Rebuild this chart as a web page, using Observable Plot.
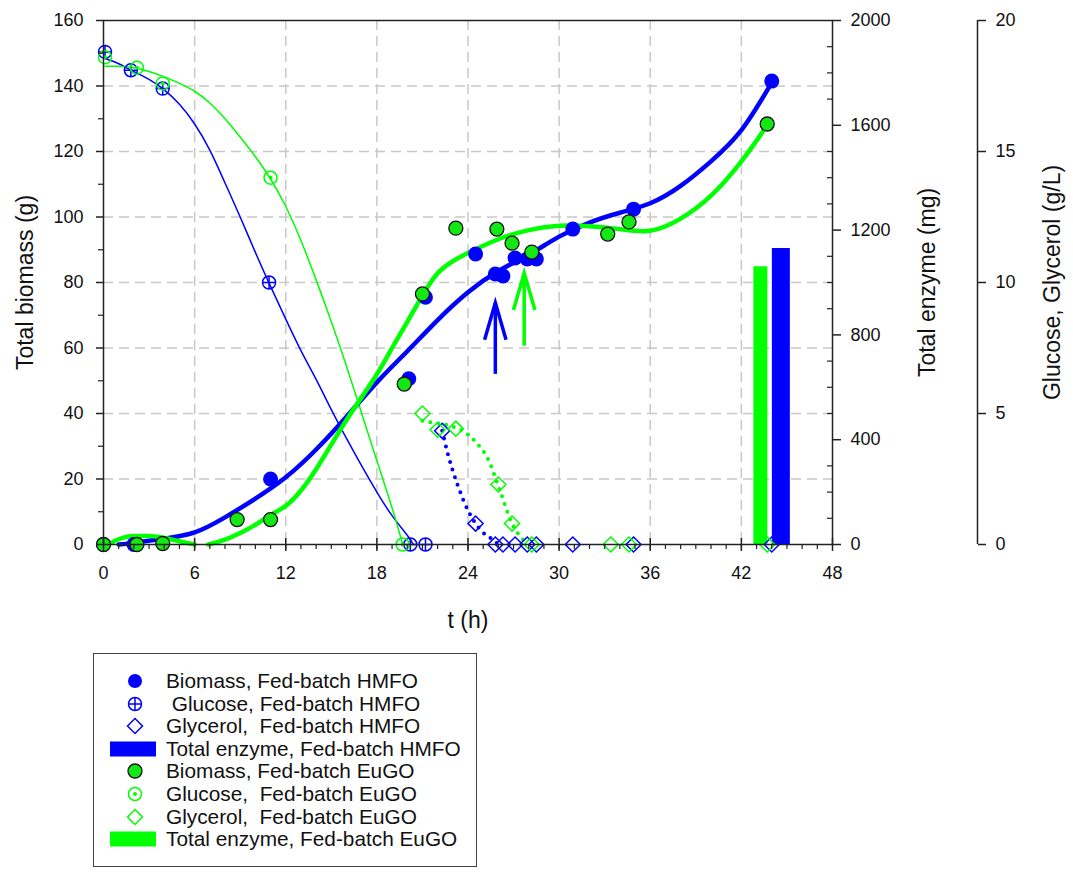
<!DOCTYPE html>
<html><head><meta charset="utf-8">
<script src="https://cdn.jsdelivr.net/npm/d3@7"></script>
<script src="https://cdn.jsdelivr.net/npm/@observablehq/plot@0.6"></script>
<style>
body{margin:0;background:#fff;font-family:"Liberation Sans",Arial,sans-serif;color:#111;}
#chart{position:absolute;left:0;top:0;}
#legend{position:absolute;left:93px;top:653px;width:384px;height:214px;border:1.5px solid #444;box-sizing:border-box;background:#fff;}
.row{position:absolute;left:0;width:380px;height:22px;}
.row svg{position:absolute;left:14px;top:0;}
.row span{position:absolute;left:72px;top:0;line-height:22px;font-size:20.8px;white-space:pre;}
</style></head><body>
<div id="chart"></div>
<div id="legend"></div>
<script>
// ---- axis ticks ----
const xTicks = [0, 6, 12, 18, 24, 30, 36, 42, 48];
const gridX = [6, 12, 18, 24, 30, 36, 42];
const gridY = [20, 40, 60, 80, 100, 120, 140];
const biomassTicks = [0, 20, 40, 60, 80, 100, 120, 140, 160];
const biomassMinor = [10, 30, 50, 70, 90, 110, 130, 150];
const enzymeTicks = [0, 400, 800, 1200, 1600, 2000];
const enzymeMinor = [100, 200, 300, 500, 600, 700, 900, 1000, 1100, 1300, 1400, 1500, 1700, 1800, 1900];
const concTicks = [0, 5, 10, 15, 20];

// ---- measured data: biomass (g) ----
const bioT_HMFO = [0, 2.0, 11.0, 20.1, 21.2, 24.5, 25.8, 26.3, 27.1, 27.9, 28.5, 30.9, 34.9, 44.0];
const bio_HMFO  = [0, 0, 20.0, 50.6, 75.5, 88.7, 82.6, 82.0, 87.5, 87.2, 87.2, 96.3, 102.4, 141.5];
const bioT_EuGO = [0, 2.2, 3.9, 8.8, 11.0, 19.8, 21.0, 23.2, 25.9, 26.9, 28.2, 33.2, 34.6, 43.7];
const bio_EuGO  = [0, 0, 0.3, 7.6, 7.6, 49.0, 76.5, 96.6, 96.3, 92.0, 89.3, 94.8, 98.5, 128.4];

// ---- glucose (g/L) ----
const gluT_HMFO = [0.1, 1.8, 3.9, 10.9, 20.2, 21.2];
const glu_HMFO  = [18.8, 18.1, 17.4, 10.0, 0, 0];
const gluT_EuGO = [0.1, 2.2, 3.9, 11.0, 19.7];
const glu_EuGO  = [18.6, 18.2, 17.6, 14.0, 0];

// ---- glycerol (g/L) ----
const glyT_HMFO = [22.3, 24.5, 25.8, 26.3, 27.1, 27.9, 28.5, 30.9, 34.9, 44.0];
const gly_HMFO  = [4.34, 0.8, 0, 0, 0, 0, 0, 0, 0, 0];
const glyT_EuGO = [21.0, 22.0, 23.2, 26.0, 26.9, 28.2, 33.4, 34.6, 43.7];
const gly_EuGO  = [5.0, 4.38, 4.42, 2.29, 0.8, 0, 0, 0, 0];

// ---- total enzyme (mg) ----
const enzT_HMFO = [44.6];
const enz_HMFO  = [1130];
const enzT_EuGO = [43.25];
const enz_EuGO  = [1060];

// ---- fitted curves ----
const fitT_HMFO = [1, 2, 4, 6, 8, 10, 12, 14, 16, 18, 20, 22, 24, 26, 28, 30, 32, 34, 36, 38, 40, 42, 44];
const fit_HMFO  = [0, 0.5, 1.8, 3.7, 8.3, 14, 20.5, 29, 39, 49.5, 59, 68.5, 77, 83.5, 88.5, 94, 98.3, 101.3, 104.2, 109.5, 117, 126.5, 141];
const fitTa_EuGO = [0.3, 1, 2, 3, 4, 5, 6];
const fita_EuGO  = [0, 1.6, 2.6, 2.6, 2.0, 1.0, 0];
const fitTb_EuGO = [6.9, 8, 9, 10, 11, 12, 13, 14, 15, 16, 17, 18, 19, 20, 21, 22, 23, 24, 26, 28, 30, 32, 34, 36, 38, 40, 42, 43.7];
const fitb_EuGO  = [0, 1.5, 3.5, 6, 9, 11.8, 16.5, 23, 30.5, 38, 45, 52, 60, 68, 76, 82.8, 86.5, 89, 93.2, 96, 97.3, 97.2, 96.3, 95.8, 99.5, 106.5, 117, 128];

const gluFitT_HMFO = [0.1, 1, 2, 3, 4, 5, 6, 7, 8, 9, 10, 11, 12, 13, 14, 15, 16, 17, 18, 19, 20, 20.4];
const gluFit_HMFO  = [18.55, 18.35, 18.05, 17.75, 17.35, 16.8, 16.05, 15.05, 13.8, 12.5, 11.15, 9.85, 8.6, 7.4, 6.3, 5.15, 4.05, 3.0, 2.0, 1.1, 0.35, 0];
const gluFitT_EuGO = [0.1, 1, 2, 3, 4, 5, 6, 7, 8, 9, 10, 11, 12, 13, 14, 15, 16, 17, 18, 19, 19.7];
const gluFit_EuGO  = [18.25, 18.25, 18.2, 18.05, 17.85, 17.6, 17.3, 16.85, 16.25, 15.55, 14.8, 13.95, 12.9, 11.6, 10.1, 8.5, 6.8, 5.0, 3.2, 1.4, 0];

const glyFitT_HMFO = [22.3, 22.7, 23.3, 24, 24.5, 25, 25.6, 26];
const glyFit_HMFO  = [4.34, 3.4, 2.3, 1.3, 0.8, 0.45, 0.2, 0];
const glyFitT_EuGO = [21, 22, 23, 24, 24.6, 25.3, 26.1, 26.9, 27.5, 28];
const glyFit_EuGO  = [4.72, 4.62, 4.5, 4.2, 3.85, 3.28, 2.06, 0.8, 0.27, 0];

// ---- annotation arrows (biomass units) ----
const arrowT_HMFO = [25.8], arrowFrom_HMFO = [52.1], arrowTo_HMFO = [73.8];
const arrowT_EuGO = [27.7], arrowFrom_EuGO = [60.7], arrowTo_EuGO = [82.9];

const legendLabels = [
  "Biomass, Fed-batch HMFO",
  " Glucose, Fed-batch HMFO",
  "Glycerol,  Fed-batch HMFO",
  "Total enzyme, Fed-batch HMFO",
  "Biomass, Fed-batch EuGO",
  "Glucose,  Fed-batch EuGO",
  "Glycerol,  Fed-batch EuGO",
  "Total enzyme, Fed-batch EuGO"
];

// ---- helpers ----
const blue = "#0000ff", green = "#00ff00", greenFill = "#14e814", axisCol = "#222";
const FONT = "'Liberation Sans', Arial, sans-serif";
const enzK = 160 / 2000;   // enzyme mg -> biomass axis units
const concK = 160 / 20;    // g/L -> biomass axis units
const pts = (ts, vs) => ts.map((t, i) => ({t, v: vs[i]}));
const arrows = (ts, a, b) => ts.map((t, i) => ({t, from: a[i], to: b[i]}));

const crossCircle = {draw(ctx, size) {
  const r = Math.sqrt(size / Math.PI);
  ctx.moveTo(r, 0); ctx.arc(0, 0, r, 0, 2 * Math.PI);
  ctx.moveTo(-r, 0); ctx.lineTo(r, 0);
  ctx.moveTo(0, -r); ctx.lineTo(0, r);
}};
const chevron = {draw(ctx, size) {
  const L = Math.sqrt(size / Math.PI);
  ctx.moveTo(-0.29 * L, L); ctx.lineTo(0, 0); ctx.lineTo(0.29 * L, L);
}};

const conc = d => d.v * concK;

const chart = Plot.plot({
  width: 1073, height: 645,
  marginLeft: 103, marginRight: 241, marginTop: 20, marginBottom: 101,
  x: {domain: [0, 48]},
  y: {domain: [0, 160]},
  style: {fontFamily: FONT, color: "#111", background: "transparent", overflow: "visible"},
  marks: [
    Plot.ruleX(gridX, {stroke: "#c8c8c8", strokeWidth: 1.5, strokeDasharray: "10,6"}),
    Plot.ruleY(gridY, {stroke: "#c8c8c8", strokeWidth: 1.5, strokeDasharray: "10,6"}),

    // total enzyme bars
    Plot.ruleX(pts(enzT_EuGO, enz_EuGO), {x: "t", y1: 0, y2: d => d.v * enzK, stroke: green, strokeWidth: 14}),
    Plot.ruleX(pts(enzT_HMFO, enz_HMFO), {x: "t", y1: 0, y2: d => d.v * enzK, stroke: blue, strokeWidth: 18}),

    // glucose fits (thin)
    Plot.line(pts(gluFitT_HMFO, gluFit_HMFO), {x: "t", y: conc, stroke: blue, strokeWidth: 1.5, curve: "natural"}),
    Plot.line(pts(gluFitT_EuGO, gluFit_EuGO), {x: "t", y: conc, stroke: green, strokeWidth: 1.5, curve: "natural"}),

    // glycerol fits (dotted)
    Plot.line(pts(glyFitT_HMFO, glyFit_HMFO), {x: "t", y: conc, stroke: blue, strokeWidth: 4, strokeDasharray: "0,8", strokeLinecap: "round", curve: "monotone-x"}),
    Plot.line(pts(glyFitT_EuGO, glyFit_EuGO), {x: "t", y: conc, stroke: green, strokeWidth: 4, strokeDasharray: "0,8", strokeLinecap: "round", curve: "monotone-x"}),

    // biomass fits (thick)
    Plot.line(pts(fitT_HMFO, fit_HMFO), {x: "t", y: "v", stroke: blue, strokeWidth: 4.5, curve: "natural"}),
    Plot.line(pts(fitTa_EuGO, fita_EuGO), {x: "t", y: "v", stroke: green, strokeWidth: 4.5, curve: "monotone-x"}),
    Plot.line(pts(fitTb_EuGO, fitb_EuGO), {x: "t", y: "v", stroke: green, strokeWidth: 4.5, curve: "natural"}),

    // arrows
    Plot.link(arrows(arrowT_HMFO, arrowFrom_HMFO, arrowTo_HMFO), {x1: "t", x2: "t", y1: "from", y2: "to", stroke: blue, strokeWidth: 3.5}),
    Plot.dot(arrows(arrowT_HMFO, arrowFrom_HMFO, arrowTo_HMFO), {x: "t", y: "to", symbol: chevron, r: 37, fill: "none", stroke: blue, strokeWidth: 3.5}),
    Plot.link(arrows(arrowT_EuGO, arrowFrom_EuGO, arrowTo_EuGO), {x1: "t", x2: "t", y1: "from", y2: "to", stroke: green, strokeWidth: 3.5}),
    Plot.dot(arrows(arrowT_EuGO, arrowFrom_EuGO, arrowTo_EuGO), {x: "t", y: "to", symbol: chevron, r: 37, fill: "none", stroke: green, strokeWidth: 3.5}),

    // glycerol markers
    Plot.dot(pts(glyT_HMFO, gly_HMFO), {x: "t", y: conc, symbol: "diamond2", r: 6.8, fill: "none", stroke: blue, strokeWidth: 1.5}),
    Plot.dot(pts(glyT_EuGO, gly_EuGO), {x: "t", y: conc, symbol: "diamond2", r: 6.8, fill: "none", stroke: green, strokeWidth: 1.5}),

    // glucose markers
    Plot.dot(pts(gluT_HMFO, glu_HMFO), {x: "t", y: conc, symbol: crossCircle, r: 6.5, fill: "none", stroke: blue, strokeWidth: 1.5}),
    Plot.dot(pts(gluT_EuGO, glu_EuGO), {x: "t", y: conc, r: 6.5, fill: "none", stroke: green, strokeWidth: 1.5}),
    Plot.dot(pts(gluT_EuGO, glu_EuGO), {x: "t", y: conc, r: 2, fill: green}),

    // biomass markers
    Plot.dot(pts(bioT_HMFO, bio_HMFO), {x: "t", y: "v", r: 7.5, fill: blue}),
    Plot.dot(pts(bioT_EuGO, bio_EuGO), {x: "t", y: "v", r: 7, fill: greenFill, stroke: "#111", strokeWidth: 1.3}),

    // frame + axes
    Plot.frame({stroke: axisCol, strokeWidth: 1.5}),
    Plot.axisX({ticks: xTicks, tickSize: 7, tickPadding: 15, fontSize: 18, label: null, stroke: axisCol, strokeWidth: 1.5}),
    Plot.axisX({ticks: xTicks, tickSize: -6, text: null, label: null, stroke: axisCol, strokeWidth: 1.5}),
    Plot.axisX({ticks: d3.range(1, 48), tickSize: 5, text: null, label: null, stroke: axisCol, strokeWidth: 1.2}),

    Plot.axisY({ticks: biomassTicks, tickSize: 7, tickPadding: 13, fontSize: 18, label: null, stroke: axisCol, strokeWidth: 1.5}),
    Plot.axisY({ticks: biomassMinor, tickSize: 5, text: null, label: null, stroke: axisCol, strokeWidth: 1.2}),

    Plot.axisY({anchor: "right", ticks: enzymeTicks.map(v => v * enzK), tickFormat: d => String(Math.round(d / enzK)), tickSize: 8, tickPadding: 10, fontSize: 18, label: null, stroke: axisCol, strokeWidth: 1.5}),
    Plot.axisY({anchor: "right", ticks: enzymeMinor.map(v => v * enzK), tickSize: -6, text: null, label: null, stroke: axisCol, strokeWidth: 1.2}),

    Plot.ruleX([48], {y1: 0, y2: 160, dx: 145, stroke: axisCol, strokeWidth: 1.5}),
    Plot.axisY({anchor: "right", dx: 145, ticks: concTicks.map(v => v * concK), tickFormat: d => String(Math.round(d / concK)), tickSize: 8, tickPadding: 10, fontSize: 18, label: null, stroke: axisCol, strokeWidth: 1.5}),

    // axis titles
    Plot.text(["Total biomass (g)"], {frameAnchor: "left", dx: -78, rotate: -90, textAnchor: "middle", lineAnchor: "middle", fontSize: 23, fill: "#111"}),
    Plot.text(["Total enzyme (mg)"], {frameAnchor: "right", dx: 95, rotate: -90, textAnchor: "middle", lineAnchor: "middle", fontSize: 23, fill: "#111"}),
    Plot.text(["Glucose, Glycerol (g/L)"], {frameAnchor: "right", dx: 220, rotate: -90, textAnchor: "middle", lineAnchor: "middle", fontSize: 23, fill: "#111"}),
    Plot.text(["t (h)"], {frameAnchor: "bottom", dy: 76, textAnchor: "middle", lineAnchor: "middle", fontSize: 23, fill: "#111"})
  ]
});
document.getElementById("chart").appendChild(chart);

// ---- legend ----
const icons = [
  `<circle cx="27" cy="11" r="7" fill="${blue}"/>`,
  `<circle cx="27" cy="11" r="6.5" fill="none" stroke="${blue}" stroke-width="1.5"/><path d="M20.5 11H33.5M27 4.5V17.5" stroke="${blue}" stroke-width="1.5"/>`,
  `<path d="M27 3.5L34.5 11L27 18.5L19.5 11Z" fill="none" stroke="${blue}" stroke-width="1.5"/>`,
  `<rect x="2" y="3.5" width="46" height="15" fill="${blue}"/>`,
  `<circle cx="27" cy="11" r="7" fill="${greenFill}" stroke="#111" stroke-width="1.3"/>`,
  `<circle cx="27" cy="11" r="6.5" fill="none" stroke="${green}" stroke-width="1.5"/><circle cx="27" cy="11" r="2" fill="${green}"/>`,
  `<path d="M27 3.5L34.5 11L27 18.5L19.5 11Z" fill="none" stroke="${green}" stroke-width="1.5"/>`,
  `<rect x="2" y="3.5" width="46" height="15" fill="${green}"/>`
];
const legend = document.getElementById("legend");
legendLabels.forEach((label, i) => {
  const row = document.createElement("div");
  row.className = "row";
  row.style.top = (16 + i * 22.6) + "px";
  row.innerHTML = `<svg width="52" height="22">${icons[i]}</svg><span></span>`;
  row.querySelector("span").textContent = label;
  legend.appendChild(row);
});
</script>
</body></html>
